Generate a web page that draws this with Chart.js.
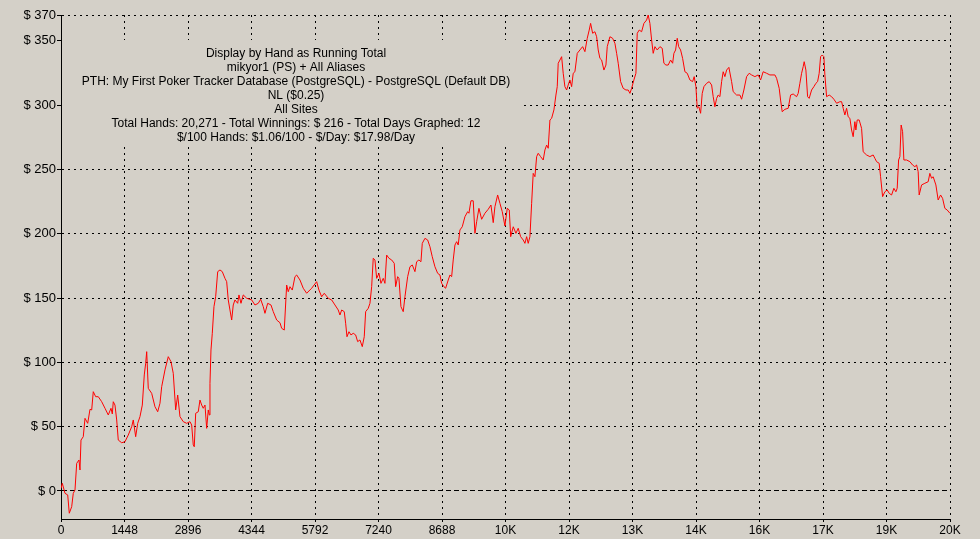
<!DOCTYPE html>
<html>
<head>
<meta charset="utf-8">
<script src="https://cdn.jsdelivr.net/npm/chart.js@4"></script>
<style>
  html, body { margin: 0; padding: 0; background: #d4d0c8; }
  canvas { display: block; }
</style>
</head>
<body>
<canvas id="graph" width="980" height="539"></canvas>
<script>
// running total by hand
const hands = [
  0,30,91,153,189,244,280,319,358,410,433,456,508,547,609,661,700,736,791,850,
  928,1003,1078,1140,1170,1192,1231,1270,1306,1384,1459,1534,1612,1648,1703,1749,1801,1854,1899,1931,
  1954,1990,2068,2143,2205,2257,2296,2371,2446,2508,2560,2615,2661,2713,2788,2866,2941,2980,3016,3039,
  3071,3130,3169,3208,3244,3283,3322,3358,3381,3397,3420,3450,3488,3527,3573,3625,3678,3739,3778,3814,
  3853,3892,3928,3967,4029,4058,4104,4156,4234,4348,4423,4498,4553,4612,4651,4713,4788,4840,4918,4993,
  5032,5091,5146,5182,5221,5274,5335,5374,5449,5524,5602,5716,5830,5882,5944,6003,6094,6172,6247,6322,
  6361,6400,6459,6491,6521,6566,6612,6664,6719,6765,6817,6870,6915,6947,7006,7045,7084,7120,7159,7198,
  7250,7296,7348,7387,7426,7478,7540,7599,7631,7677,7706,7752,7804,7843,7905,7957,8010,8071,8110,8162,
  8208,8238,8299,8361,8413,8466,8527,8589,8641,8680,8732,8771,8830,8869,8908,8944,8983,9022,9058,9097,
  9150,9211,9273,9302,9348,9400,9439,9478,9530,9592,9667,9742,9804,9856,9895,9957,10009,10062,10123,10176,
  10222,10254,10313,10374,10426,10481,10540,10579,10618,10654,10693,10732,10768,10807,10846,10882,10937,10996,11035,11074,
  11110,11149,11188,11240,11286,11316,11338,11377,11416,11452,11491,11530,11566,11605,11644,11680,11719,11772,11833,11895,
  11947,12000,12045,12077,12123,12175,12214,12250,12289,12328,12380,12426,12456,12517,12579,12631,12670,12706,12761,12820,
  12882,12934,12973,13012,13064,13110,13140,13185,13240,13292,13354,13390,13429,13468,13504,13543,13596,13657,13710,13748,
  13794,13846,13901,13947,13976,14015,14052,14084,14129,14175,14227,14280,14341,14403,14439,14478,14508,14546,14585,14622,
  14660,14722,14781,14836,14872,14911,14950,14986,15025,15064,15100,15139,15178,15230,15292,15328,15406,15481,15520,15572,
  15634,15693,15748,15823,15898,15953,16012,16090,16165,16279,16318,16377,16409,16446,16507,16583,16637,16696,16774,16810,
  16849,16888,16924,16947,16986,17025,17061,17116,17168,17214,17253,17289,17321,17358,17396,17419,17458,17517,17572,17624,
  17686,17761,17800,17836,17875,17914,17950,17989,18028,18064,18103,18126,18156,18201,18256,18292,18370,18445,18520,18559,
  18598,18657,18689,18735,18787,18840,18885,18940,18992,19038,19068,19100,19129,19158,19191,19220,19282,19357,19419,19471,
  19510,19546,19569,19624,19699,19774,19813,19852,19888,19950,20002,20057,20103,20155,20208,20270
];
const winnings = [
  2,6.0,-1.8,-3.1,-17.3,-12.2,-1.8,0.8,21.5,24.1,16.3,39.6,42.2,56.5,52.6,63.5,63.0,77.2,73.3,73.3,
  69.4,64.3,59.1,64.3,59.9,69.4,66.8,55.2,39.6,37.5,38.3,43.5,50.0,55.2,42.2,52.6,57.8,66.8,90.2,99.3,
  108.3,79.8,75.9,65.5,61.6,68.2,81.1,94.1,104.4,100.5,91.5,63.0,74.6,57.8,53.9,52.6,53.9,51.3,35.8,34.4,
  60.4,61.6,70.7,66.8,64.3,66.8,48.7,63.0,59.1,83.7,109.6,122.6,143.3,151.0,170.5,171.8,170.5,165.3,162.7,148.5,
  140.7,132.9,144.6,148.5,145.9,152.4,145.9,152.4,149.8,148.5,144.6,145.9,149.0,143.3,138.1,145.9,144.6,139.4,132.9,130.8,
  126.5,125.1,160.1,154.9,158.8,156.2,166.6,167.9,164.0,157.6,153.7,157.6,162.7,156.2,151.0,153.7,149.8,148.5,144.6,140.7,
  136.8,140.7,139.4,130.4,119.9,123.8,121.3,122.6,121.3,116.1,117.4,112.2,119.9,139.4,142.0,145.9,158.8,180.9,179.6,165.3,
  169.2,161.4,165.3,161.4,183.4,180.9,179.6,177.0,158.8,166.6,165.3,143.3,139.4,151.0,166.6,174.3,175.7,170.5,178.2,179.6,
  178.2,192.5,196.4,195.1,189.9,182.1,174.3,169.2,167.9,161.4,158.8,157.6,164.0,167.9,166.6,179.6,191.2,193.8,191.2,202.9,
  205.4,213.2,217.1,215.9,225.6,225.6,200.3,209.3,219.7,211.2,215.9,219.0,222.3,208.6,221.0,230.1,223.6,217.1,206.0,219.7,
  218.4,197.7,205.4,200.3,204.2,197.7,195.1,192.5,197.7,192.5,197.7,223.6,246.9,244.3,259.9,262.5,259.9,257.3,265.1,268.9,
  266.4,288.4,289.7,296.2,307.8,314.3,332.5,335.0,337.6,324.7,314.3,311.7,315.6,319.5,314.3,324.7,325.9,340.2,342.8,345.4,
  341.5,351.9,358.3,363.5,355.8,357.0,353.1,342.8,336.3,335.0,327.2,331.1,345.4,353.1,351.9,348.0,340.2,332.5,318.2,313.0,
  311.7,311.7,309.1,313.0,319.5,324.7,355.8,358.3,357.0,363.5,366.1,370.0,363.5,350.6,340.2,345.4,342.8,345.4,344.1,332.5,
  331.1,331.1,335.0,332.5,340.2,342.8,351.9,345.4,342.8,336.3,325.9,324.7,319.5,318.2,322.1,314.3,297.5,298.7,293.6,309.1,
  314.3,316.9,318.2,315.6,306.5,298.7,305.2,307.8,306.5,318.2,325.9,322.1,327.2,329.3,318.2,310.4,307.8,307.8,304.5,311.7,
  322.1,324.7,323.4,322.1,323.4,319.5,325.9,324.7,323.4,323.4,320.8,313.0,303.9,294.8,296.7,297.5,307.8,308.6,306.5,309.1,
  316.9,324.7,329.8,333.7,327.2,306.5,305.2,311.7,314.3,316.9,318.2,324.7,337.6,338.9,337.6,323.4,306.5,307.8,306.5,304.5,
  301.4,302.6,302.6,297.5,292.3,297.5,290.9,289.7,280.6,275.4,287.1,280.6,288.4,288.4,281.9,263.7,261.2,259.9,261.2,258.6,
  256.0,254.7,244.3,228.8,232.6,234.0,231.4,230.1,235.3,232.6,235.3,257.3,259.9,284.5,279.3,257.3,257.3,256.0,253.4,252.1,
  253.4,248.2,230.1,237.9,239.2,240.4,246.9,243.1,244.3,237.9,226.2,230.1,227.5,219.7,218.4,215.9
];

const xTicks = [0,1448,2896,4344,5792,7240,8688,10136,11584,13032,14480,15928,17376,18824,20272];
const xLabels = ['0','1448','2896','4344','5792','7240','8688','10K','12K','13K','14K','16K','17K','19K','20K'];
const yTicks = [0,50,100,150,200,250,300,350,370];
const yMin = -21.77;
const yMax = 370;

const titleLines = [
  'Display by Hand as Running Total',
  'mikyor1 (PS) + All Aliases',
  'PTH: My First Poker Tracker Database (PostgreSQL) - PostgreSQL (Default DB)',
  'NL ($0.25)',
  'All Sites',
  'Total Hands: 20,271 - Total Winnings: $ 216 - Total Days Graphed: 12',
  '$/100 Hands: $1.06/100 - $/Day: $17.98/Day'
];

const BG = '#d4d0c8';
const FONT = 'Arial, "Liberation Sans", sans-serif';

// grey box with the summary text, it hides the grid behind it
const titleBox = {
  id: 'titleBox',
  beforeDatasetsDraw(chart) {
    const c = chart.ctx;
    c.save();
    c.fillStyle = BG;
    c.fillRect(62, 40, 460, 107);
    c.fillStyle = '#000';
    c.font = '12px ' + FONT;
    c.textAlign = 'center';
    c.textBaseline = 'middle';
    titleLines.forEach((t, i) => c.fillText(t, 296, 54 + i * 14));
    c.restore();
  }
};

const points = hands.map((h, i) => ({ x: h, y: winnings[i] }));

new Chart(document.getElementById('graph'), {
  type: 'line',
  data: {
    datasets: [{
      data: points,
      borderColor: '#ff0000',
      borderWidth: 1,
      pointRadius: 0,
      tension: 0,
      fill: false
    }]
  },
  options: {
    responsive: false,
    animation: false,
    devicePixelRatio: 1,
    layout: { padding: { top: 15, right: 30, left: 0, bottom: 0 } },
    plugins: { legend: { display: false }, tooltip: { enabled: false } },
    scales: {
      x: {
        type: 'linear',
        min: 0,
        max: 20272,
        afterBuildTicks: s => { s.ticks = xTicks.map(v => ({ value: v })); },
        afterFit: s => { s.height = 20; },
        ticks: {
          color: '#000',
          font: { family: FONT, size: 12 },
          padding: 1,
          maxRotation: 0,
          autoSkip: false,
          callback: (v, i) => xLabels[i]
        },
        grid: { color: '#000', lineWidth: 1, tickLength: 3, tickColor: '#000' },
        border: { color: '#000', width: 1, dash: [2, 4] }
      },
      y: {
        min: yMin,
        max: yMax,
        afterBuildTicks: s => { s.ticks = yTicks.map(v => ({ value: v })); },
        afterFit: s => { s.width = 61; },
        ticks: {
          color: '#000',
          font: { family: FONT, size: 13 },
          padding: 1,
          autoSkip: false,
          callback: v => '$ ' + v
        },
        grid: { color: '#000', lineWidth: 1, tickLength: 4, tickColor: '#000' },
        border: {
          color: '#000',
          width: 1,
          dash: c => (c.tick && c.tick.value === 0) ? [5, 3] : [2, 4]
        }
      }
    }
  },
  plugins: [titleBox]
});
</script>
</body>
</html>
